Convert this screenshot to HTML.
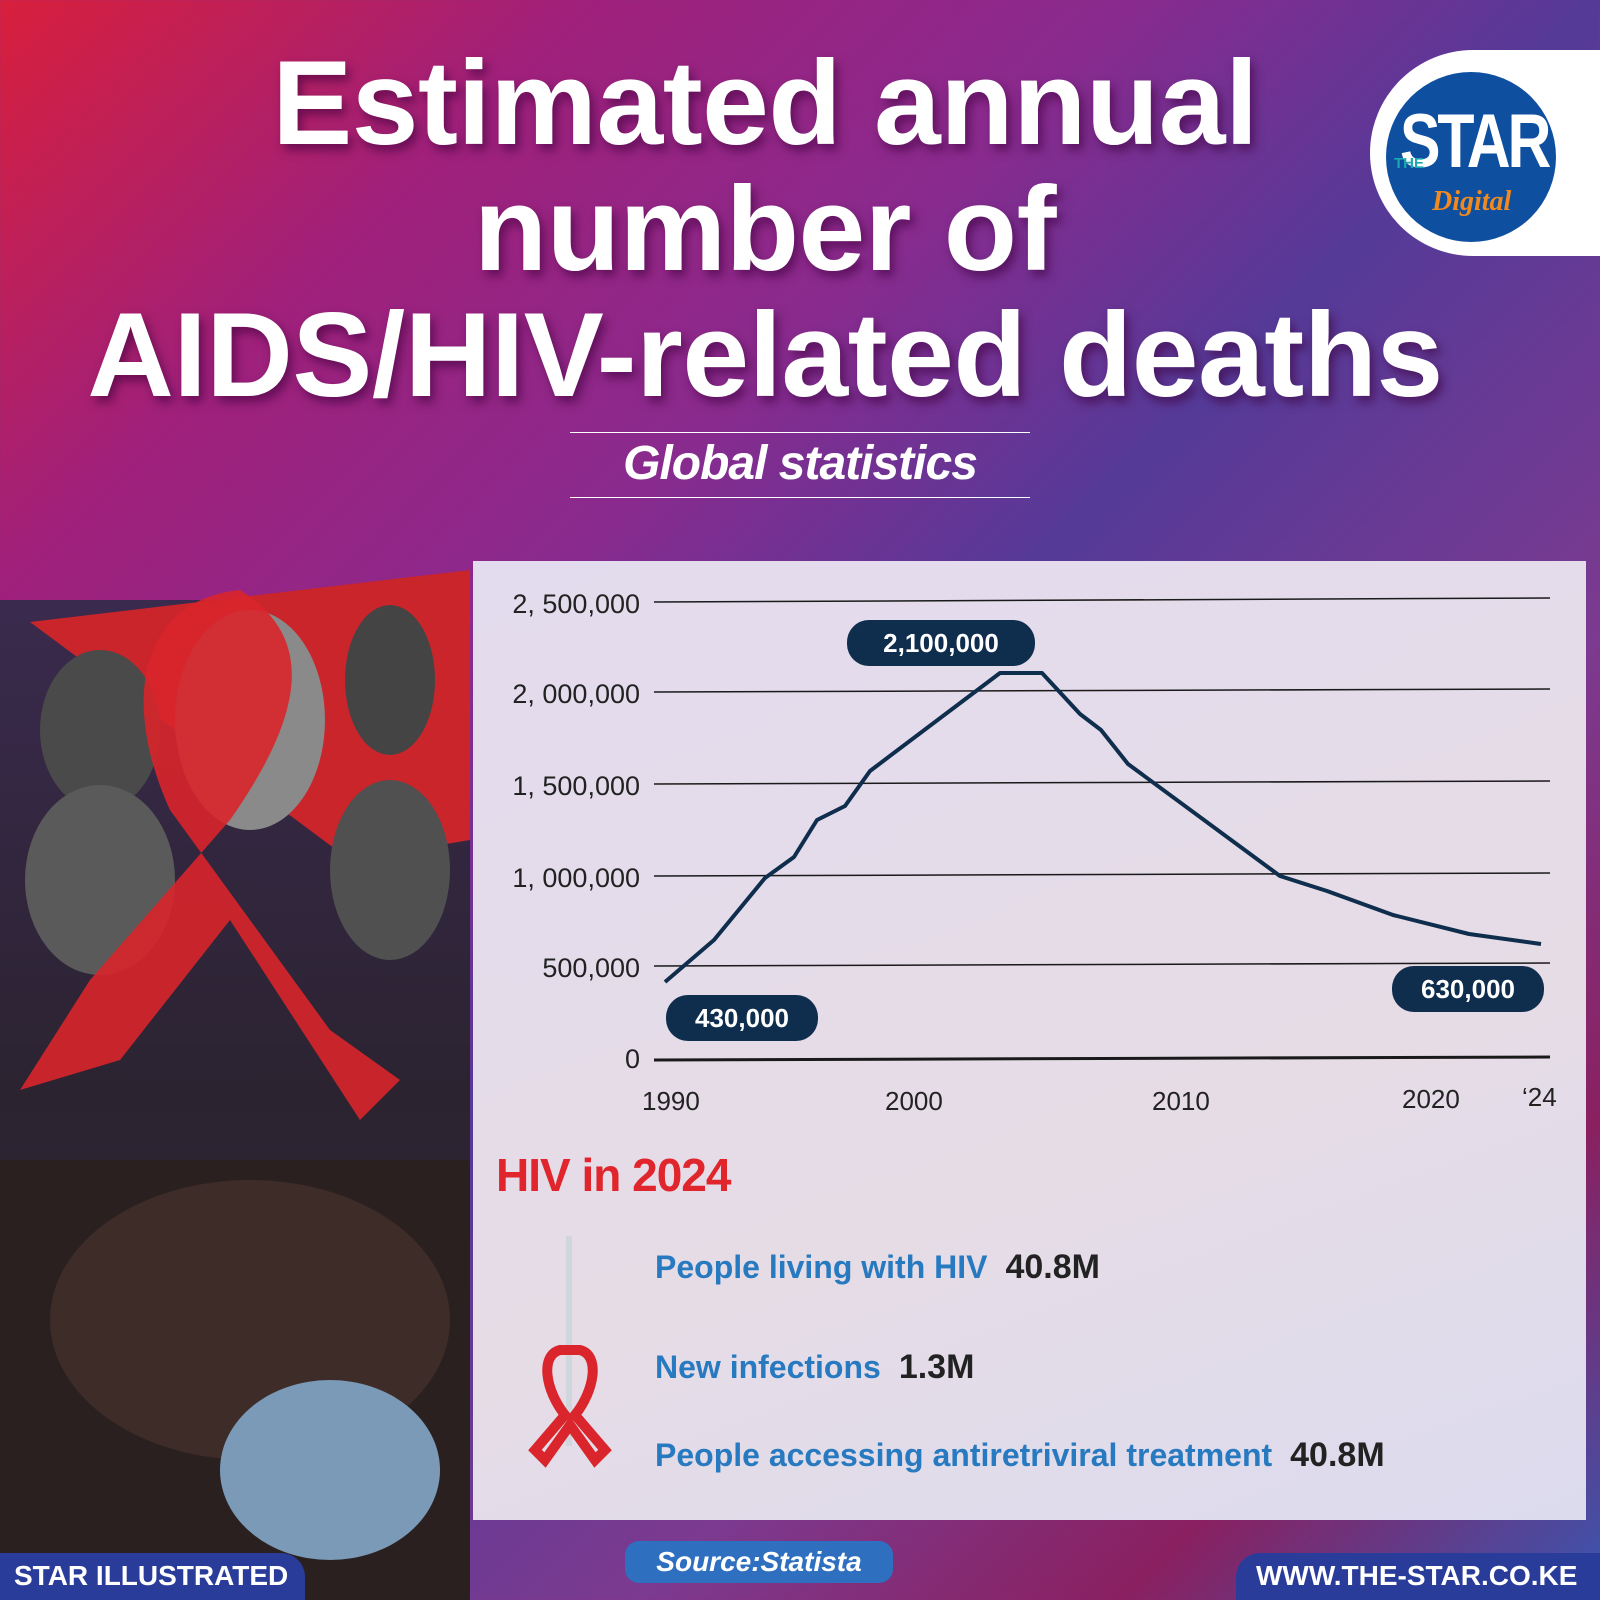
<!DOCTYPE html>
<html><head><meta charset="utf-8"><style>
*{margin:0;padding:0;box-sizing:border-box}
body{width:1600px;height:1600px;overflow:hidden;font-family:"Liberation Sans",sans-serif;position:relative;
background:linear-gradient(135deg,#d81f3c 0%,#a0207a 18%,#8a2a8e 35%,#553a98 50%,#7c3a90 70%,#8a2060 85%,#3a56b0 100%)}
.abs{position:absolute}
h1{position:absolute;left:0;width:1530px;text-align:center;top:40px;color:#fff;font-weight:900;font-size:120px;line-height:126px;letter-spacing:-0.5px;text-shadow:4px 6px 10px rgba(60,0,60,.6)}
.sub{left:570px;width:460px;top:432px;height:66px;border-top:1.5px solid #fff;border-bottom:1.5px solid #fff;color:#fff;font-style:italic;font-weight:700;font-size:48px;text-align:center;line-height:62px;letter-spacing:-1px}
.panel{left:473px;top:561px;width:1113px;height:959px;background:linear-gradient(160deg,#e3dcee,#e6dce6 60%,#dcdbee)}
.pill{background:#0f2d4d;color:#fff;font-weight:700;font-size:26px;border-radius:22px;text-align:center;line-height:46px;height:46px}
.lab{color:#2779c0;font-weight:700;font-size:32px;letter-spacing:0px}
.val{color:#222;font-weight:700;font-size:34px;margin-left:18px}
</style></head><body>
<div class="abs" style="left:0;top:600px;width:470px;height:1000px;background:linear-gradient(180deg,#3a2a4e 0%,#2b2330 50%,#3a3040 100%)"></div>
<svg class="abs" style="left:0;top:560px" width="470" height="1040">
<polygon points="30,62 470,10 470,280 350,300" fill="#c9252b"/>
<ellipse cx="250" cy="160" rx="75" ry="110" fill="#8a8a8a"/>
<ellipse cx="100" cy="170" rx="60" ry="80" fill="#4a4a4a"/>
<ellipse cx="100" cy="320" rx="75" ry="95" fill="#5a5a5a"/>
<ellipse cx="390" cy="120" rx="45" ry="75" fill="#444"/>
<ellipse cx="390" cy="310" rx="60" ry="90" fill="#505050"/>
<path d="M240,30 C140,40 120,140 170,250 L330,470 L400,520 L360,560 L230,360 L120,500 L20,530 L90,420 L230,260 C300,160 320,80 240,30 Z" fill="#d9252b" opacity=".9"/>
<rect x="0" y="600" width="470" height="440" fill="#2a2020"/>
<ellipse cx="250" cy="760" rx="200" ry="140" fill="#3e2c28"/>
<ellipse cx="330" cy="910" rx="110" ry="90" fill="#7a9ab8"/>
</svg>
<h1>Estimated annual<br>number of<br>AIDS/HIV-related deaths</h1>
<div class="abs sub">Global statistics</div>
<div class="abs" style="left:1370px;top:50px;width:240px;height:206px;background:#fff;border-radius:103px 0 0 103px"></div>
<div class="abs" style="left:1386px;top:72px;width:170px;height:170px;border-radius:50%;background:#0f4fa0"></div>
<div class="abs" style="left:1400px;top:98px;color:#fff;font-weight:900;font-size:76px;letter-spacing:-4px;transform:scaleX(.8);transform-origin:left">STAR</div>
<div class="abs" style="left:1394px;top:155px;color:#1ba8b0;font-weight:900;font-size:15px">THE</div>
<div class="abs" style="left:1432px;top:186px;color:#f08a1e;font-style:italic;font-family:'Liberation Serif',serif;font-weight:700;font-size:28px">Digital</div>
<div class="abs panel"></div>
<svg class="abs" style="left:0;top:0" width="1600" height="1600">
<g stroke="#1a1a1a" stroke-width="1.5">
<line x1="654" y1="602" x2="1550" y2="598"/><line x1="654" y1="692" x2="1550" y2="689"/>
<line x1="654" y1="784" x2="1550" y2="781"/><line x1="654" y1="876" x2="1550" y2="873"/>
<line x1="654" y1="966" x2="1550" y2="963"/></g>
<line x1="654" y1="1060" x2="1550" y2="1057" stroke="#1a1a1a" stroke-width="3"/>
<g font-size="27" fill="#222" text-anchor="end" font-family="Liberation Sans">
<text x="640" y="613">2, 500,000</text><text x="640" y="703">2, 000,000</text><text x="640" y="795">1, 500,000</text>
<text x="640" y="887">1, 000,000</text><text x="640" y="977">500,000</text><text x="640" y="1068">0</text></g>
<g font-size="26" fill="#222" font-family="Liberation Sans">
<text x="642" y="1110">1990</text><text x="885" y="1110">2000</text><text x="1152" y="1110">2010</text>
<text x="1402" y="1108">2020</text><text x="1522" y="1106">‘24</text></g>
<polyline fill="none" stroke="#0f2d4d" stroke-width="4" stroke-linejoin="round" points="665,982 714,940 765,878 794,857 817,820 845,806 870,771 1000,673 1042,673 1080,714 1101,730 1128,764 1280,876 1327,891 1393,915 1469,934 1541,944"/>
</svg>
<div class="abs pill" style="left:847px;top:620px;width:188px">2,100,000</div>
<div class="abs pill" style="left:666px;top:995px;width:152px">430,000</div>
<div class="abs pill" style="left:1392px;top:966px;width:152px">630,000</div>
<div class="abs" style="left:496px;top:1148px;color:#e0262c;font-weight:900;font-size:46px;letter-spacing:-1px">HIV in 2024</div>
<div class="abs" style="left:566px;top:1236px;width:6px;height:210px;background:#cfd6de"></div>
<svg class="abs" style="left:520px;top:1340px" width="100" height="130"><path d="M40,10 C20,15 25,50 45,75 L15,110 L25,120 L50,85 L75,120 L85,110 L55,75 C75,50 80,15 60,10 Z" fill="none" stroke="#d9252b" stroke-width="10"/></svg>
<div class="abs" style="left:655px;top:1248px"><span class="lab">People living with HIV</span><span class="val">40.8M</span></div>
<div class="abs" style="left:655px;top:1348px"><span class="lab">New infections</span><span class="val">1.3M</span></div>
<div class="abs" style="left:655px;top:1436px"><span class="lab">People accessing antiretriviral treatment</span><span class="val">40.8M</span></div>
<div class="abs" style="left:0;top:1553px;width:305px;height:47px;background:#2a3c9a;border-radius:0 24px 0 0;color:#fff;font-weight:700;font-size:28px;line-height:46px;padding-left:14px">STAR ILLUSTRATED</div>
<div class="abs" style="left:625px;top:1541px;width:268px;height:42px;background:#2f6fc0;border-radius:14px;color:#fff;font-style:italic;font-weight:700;font-size:28px;line-height:42px;text-align:center">Source:Statista</div>
<div class="abs" style="left:1236px;top:1553px;width:364px;height:47px;background:#2a3c9a;border-radius:24px 0 0 0;color:#fff;font-weight:700;font-size:28px;line-height:46px;padding-left:20px">WWW.THE-STAR.CO.KE</div>
</body></html>
